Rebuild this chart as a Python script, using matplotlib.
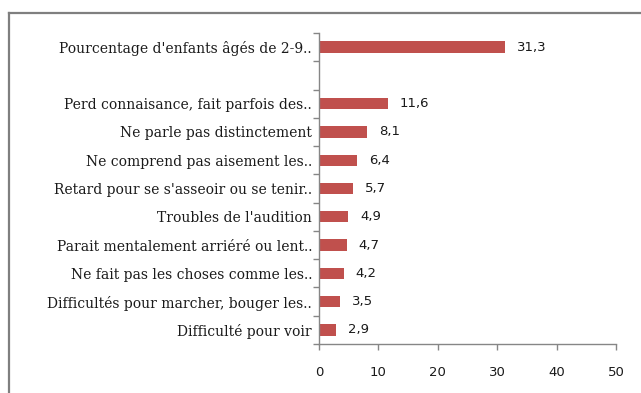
import numpy as np
import matplotlib.pyplot as plt
from matplotlib.lines import Line2D

# catégories (la ligne vide sépare le total des types de handicap)
categories = [
    "Pourcentage d'enfants âgés de 2-9..",
    "",
    "Perd connaisance, fait parfois des..",
    "Ne parle pas distinctement",
    "Ne comprend pas aisement les..",
    "Retard pour se s'asseoir ou se tenir..",
    "Troubles de l'audition",
    "Parait mentalement arriéré ou lent..",
    "Ne fait pas les choses comme les..",
    "Difficultés pour marcher, bouger les..",
    "Difficulté pour voir",
]
valeurs = [31.3, np.nan, 11.6, 8.1, 6.4, 5.7, 4.9, 4.7, 4.2, 3.5, 2.9]
x_ticks = [0, 10, 20, 30, 40, 50]

rouge = '#C0504D'
gris = '#868686'
texte = '#1a1a1a'

fig = plt.figure(figsize=(6.41, 3.93), dpi=100)
ax = fig.add_axes([319/641, 1 - 344/393, (616 - 319)/641, (344 - 33)/393])

y = np.arange(len(categories))
v = np.array(valeurs, dtype=float)
ok = ~np.isnan(v)
ax.barh(y[ok], v[ok], height=0.4, color=rouge)

# étiquettes de valeur avec virgule décimale
for yi, vi in zip(y[ok], v[ok]):
    ax.text(vi + 2.0, yi, f"{vi:.1f}".replace('.', ','), va='center', ha='left',
            fontsize=9.5, family='DejaVu Sans', color=texte)

ax.set_xlim(0, 50)
ax.set_ylim(len(categories) - 0.5, -0.5)
ax.set_xticks(x_ticks)
ax.set_xticklabels([str(t) for t in x_ticks], fontsize=9.5, family='DejaVu Sans', color=texte)

# graduations de l'axe y entre les catégories, libellés au centre
ax.set_yticks(np.arange(-0.5, len(categories) + 0.5, 1))
ax.set_yticklabels([])
ax.set_yticks(y, minor=True)
ax.set_yticklabels(categories, minor=True, fontsize=10, family='DejaVu Serif', color=texte)
ax.tick_params(axis='y', which='major', length=4, color=gris, width=1)
ax.tick_params(axis='y', which='minor', length=0, pad=5)
ax.tick_params(axis='x', which='major', length=4, color=gris, width=1, pad=12)

for s in ['top', 'right']:
    ax.spines[s].set_visible(False)
for s in ['left', 'bottom']:
    ax.spines[s].set_color(gris)
    ax.spines[s].set_linewidth(1)

# cadre du graphique
x0, y0 = 9/641, 1 - 13/393
fig.add_artist(Line2D([x0, 1.0], [y0, y0], transform=fig.transFigure, color='#7f7f7f', lw=1.6))
fig.add_artist(Line2D([x0, x0], [0.0, y0], transform=fig.transFigure, color='#7f7f7f', lw=1.6))

fig.savefig('out.png', dpi=100)
